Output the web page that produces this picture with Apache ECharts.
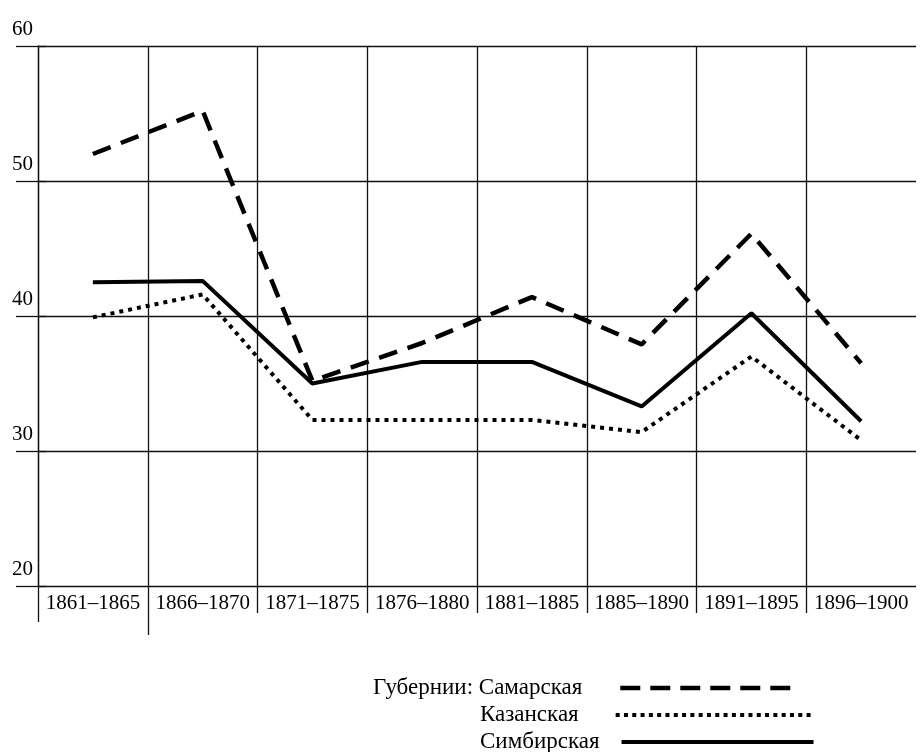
<!DOCTYPE html>
<html>
<head>
<meta charset="utf-8">
<script src="https://cdn.jsdelivr.net/npm/echarts@6/dist/echarts.min.js"></script>
<style>
html,body{margin:0;padding:0;background:#fff;}
#chart{width:922px;height:752px;}
</style>
</head>
<body>
<div id="chart"></div>
<script>
var categories = ['1861–1865','1866–1870','1871–1875','1876–1880','1881–1885','1885–1890','1891–1895','1896–1900'];
var samara   = [52.0, 55.2, 35.2, 38.0, 41.4, 37.9, 46.1, 36.5];
var kazan    = [39.9, 41.6, 32.3, 32.3, 32.3, 31.4, 37.0, 30.8];
var simbirsk = [42.5, 42.6, 35.0, 36.6, 36.6, 33.3, 40.2, 32.2];
var yTicks = [20, 30, 40, 50, 60];

var FONT = '"Liberation Serif", "Times New Roman", serif';
var chart = echarts.init(document.getElementById('chart'), null, {renderer: 'canvas'});
var gridLine = {color: '#111', width: 1.3};

function tickAxis(vals, len) {
  return {
    type: 'value', position: 'bottom', min: 0, max: categories.length,
    axisLine: {show: false}, axisLabel: {show: false}, splitLine: {show: false},
    axisTick: {show: true, length: len, lineStyle: gridLine, customValues: vals}
  };
}

function legendText(padRight) {
  return {color: '#000', fontFamily: FONT, fontSize: 23, lineHeight: 24, padding: [0, padRight, 0, 0]};
}

chart.setOption({
  backgroundColor: '#fff',
  animation: false,
  grid: {left: 38, right: 6, top: 46, bottom: 166},
  xAxis: [
    {
      type: 'category', data: categories, boundaryGap: true,
      axisLine: {show: false},
      axisTick: {show: false},
      splitLine: {show: true, showMaxLine: false, lineStyle: gridLine},
      axisLabel: {color: '#000', fontFamily: FONT, fontSize: 21, margin: 7, interval: 0}
    },
    tickAxis([2, 3, 4, 5, 6, 7], 27),
    tickAxis([0], 36),
    tickAxis([1], 49)
  ],
  yAxis: [
    {
      type: 'value', min: yTicks[0], max: yTicks[yTicks.length - 1], interval: 10,
      axisLine: {show: true, lineStyle: gridLine},
      axisTick: {show: true, length: 22, lineStyle: gridLine},
      splitLine: {show: true, lineStyle: gridLine},
      axisLabel: {color: '#000', fontFamily: FONT, fontSize: 21, margin: 5,
                  verticalAlign: 'bottom', padding: [0, 0, 6, 0]}
    },
    {
      type: 'value', position: 'right', min: yTicks[0], max: yTicks[yTicks.length - 1], interval: 10,
      axisLine: {show: false}, axisLabel: {show: false}, splitLine: {show: false},
      axisTick: {show: true, length: 8, lineStyle: gridLine}
    }
  ],
  legend: [
    {
      left: 368, top: 671, orient: 'horizontal', align: 'right',
      data: ['Самарская'], itemWidth: 175, itemHeight: 10,
      formatter: 'Губернии: {name}',
      textStyle: legendText(33),
      itemStyle: {opacity: 0},
      lineStyle: {type: [20, 10], width: 4.5, cap: 'butt'}
    },
    {
      left: 475, top: 698, orient: 'horizontal', align: 'right',
      data: ['Казанская'], itemWidth: 195, itemHeight: 10,
      textStyle: legendText(32),
      itemStyle: {opacity: 0},
      lineStyle: {type: [4, 4.3], width: 4, cap: 'butt'}
    },
    {
      left: 475, top: 725, orient: 'horizontal', align: 'right',
      data: ['Симбирская'], itemWidth: 192, itemHeight: 10,
      textStyle: legendText(17),
      itemStyle: {opacity: 0},
      lineStyle: {type: 'solid', width: 4, cap: 'butt'}
    }
  ],
  series: [
    {
      name: 'Самарская', type: 'line', data: samara, symbol: 'none', xAxisIndex: 0, yAxisIndex: 0,
      color: '#000', lineStyle: {color: '#000', width: 4.5, type: [19, 11], cap: 'butt'}
    },
    {
      name: 'Казанская', type: 'line', data: kazan, symbol: 'none', xAxisIndex: 0, yAxisIndex: 0,
      color: '#000', lineStyle: {color: '#000', width: 4, type: [4, 5], cap: 'butt'}
    },
    {
      name: 'Симбирская', type: 'line', data: simbirsk, symbol: 'none', xAxisIndex: 0, yAxisIndex: 0,
      color: '#000', lineStyle: {color: '#000', width: 4, type: 'solid', cap: 'butt'}
    }
  ]
});
</script>
</body>
</html>
